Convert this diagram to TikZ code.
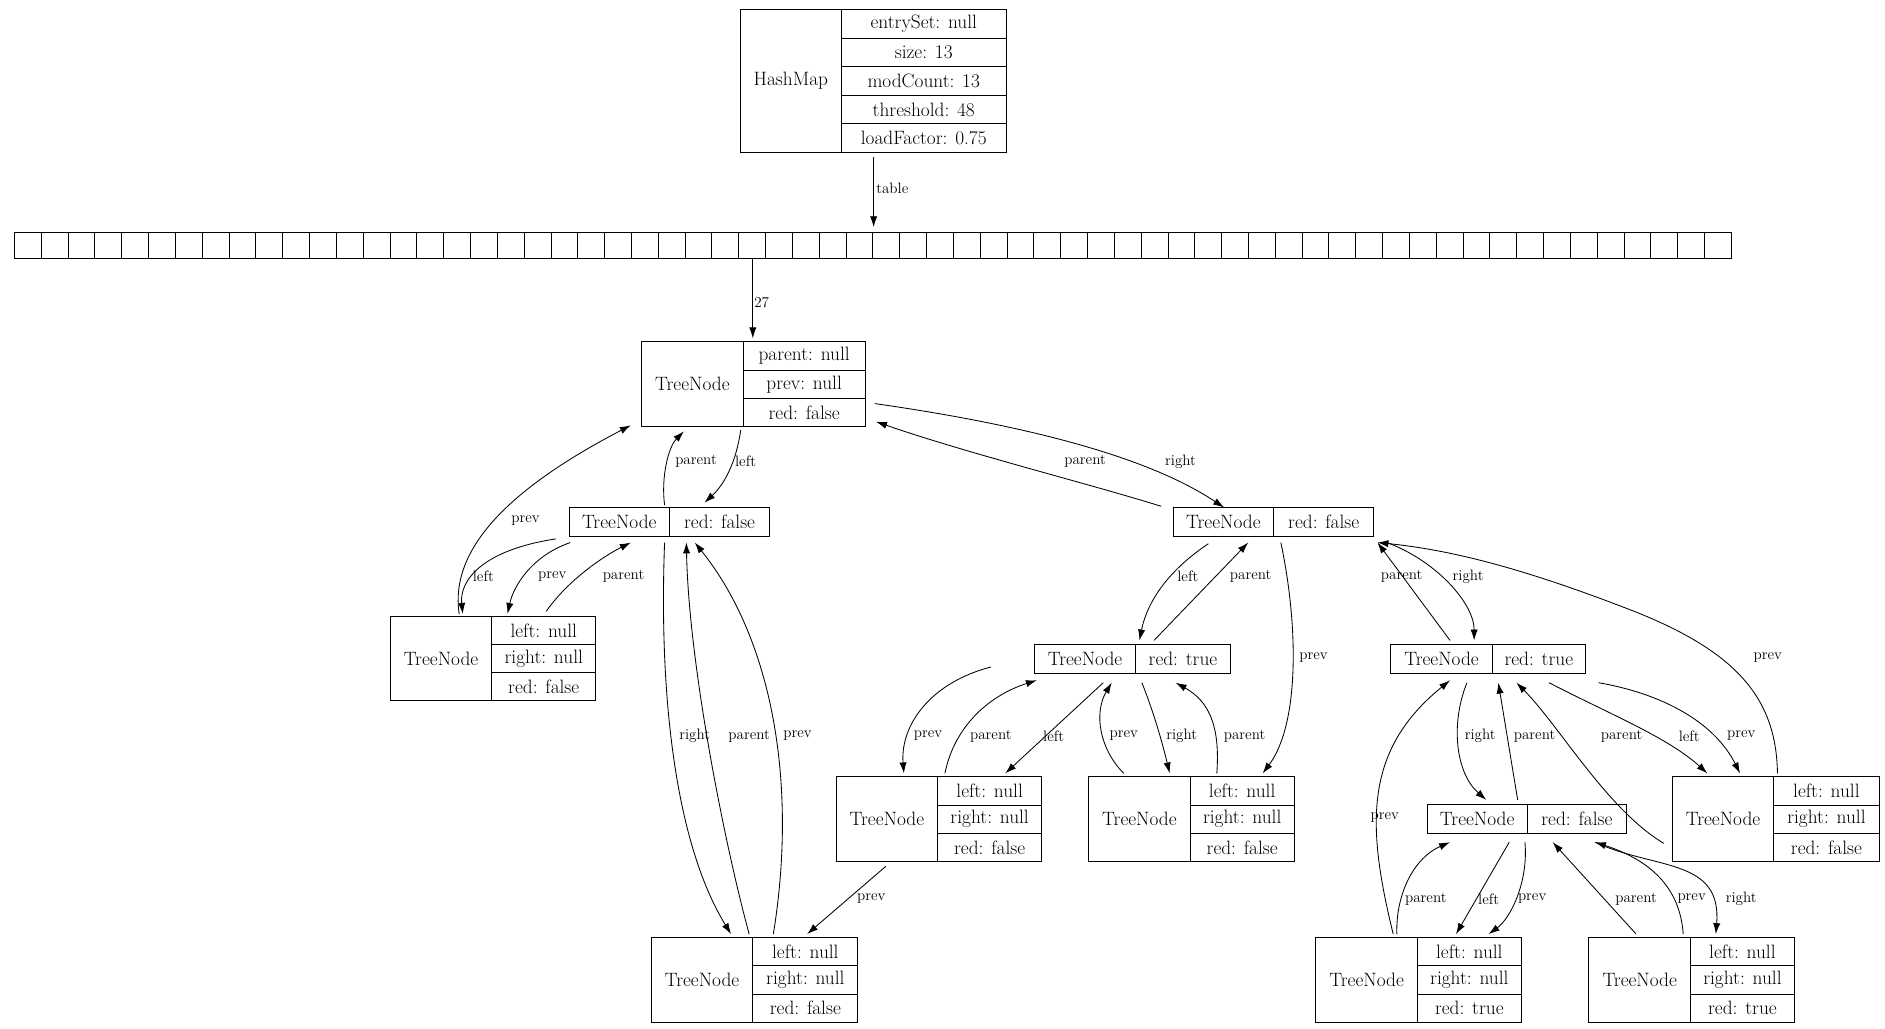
\documentclass[tikz,border=0pt]{standalone}
\usetikzlibrary{arrows.meta}
\tikzset{
  e/.style={draw,-{Latex[length=9pt,width=6pt]},line width=0.7pt},
  lab/.style={font=\fontsize{12.5}{14}\selectfont,inner sep=1pt},
  txt/.style={font=\fontsize{16}{19}\selectfont,inner sep=0pt},
  box/.style={draw,line width=0.8pt}
}
% records
\newcommand\recthree[9]{%
  \draw[box] (#2,#5) rectangle (#4,#5+70);
  \draw[box] (#3,#5) -- (#3,#5+70) (#3,#5+23.33) -- (#4,#5+23.33) (#3,#5+46.67) -- (#4,#5+46.67);
  \node[txt] (#1) at ({(#2+#3)/2},#5+35) {#6};
  \node[txt] (#1-r1) at ({(#3+#4)/2},#5+11.67) {#7};
  \node[txt] (#1-r2) at ({(#3+#4)/2},#5+35) {#8};
  \node[txt] (#1-r3) at ({(#3+#4)/2},#5+58.33) {#9};
}
\newcommand\recone[6]{%
  \draw[box] (#2,#5) rectangle (#4,#5+24);
  \draw[box] (#3,#5) -- (#3,#5+24);
  \node[txt] (#1) at ({(#2+#3)/2},#5+12) {TreeNode};
  \node[txt] (#1-r1) at ({(#3+#4)/2},#5+12) {#6};
}
\begin{document}
\begin{tikzpicture}[x=1pt,y=-1pt]
\useasboundingbox (0,0) rectangle (1560,851);
% HashMap
\draw[box] (613,8) rectangle (833,126);
\draw[box] (696,8) -- (696,126);
\foreach \k in {1,2,3,4}{\draw[box] (696,8+23.6*\k) -- (833,8+23.6*\k);}
\node[txt] (hm) at (654.5,67) {HashMap};
\node[txt] (hm1) at (764.5,19.8) {entrySet: null};
\node[txt] (hm2) at (764.5,43.4) {size: 13};
\node[txt] (hm3) at (764.5,67) {modCount: 13};
\node[txt] (hm4) at (764.5,90.6) {threshold: 48};
\node[txt] (hm5) at (764.5,114.2) {loadFactor: 0.75};
% array
\draw[box] (12,192) rectangle (1433,214);
\foreach \k in {1,...,63}{\draw[box] (12+22.2*\k,192) -- (12+22.2*\k,214);}
\coordinate (arrtop) at (723,188);
\coordinate (c27) at (623,214);
\draw[e] (723,130) -- (arrtop);
\node[lab,anchor=west] (ltable) at (724,156) {table};
\draw[e] (c27) -- (623,280);
\node[lab,anchor=west] (l27) at (623,250) {27};
% nodes
\recthree{root}{531}{615}{716}{283}{TreeNode}{parent: null}{prev: null}{red: false}
\recone{A}{471}{554}{637}{420}{red: false}
\recone{B}{971}{1054}{1137}{420}{red: false}
\recthree{L1}{323}{407}{493}{510}{TreeNode}{left: null}{right: null}{red: false}
\recthree{L2}{539}{623}{710}{776}{TreeNode}{left: null}{right: null}{red: false}
\recone{C}{856}{940}{1018}{533}{red: true}
\recone{D}{1151}{1235}{1312}{533}{red: true}
\recthree{C1}{692}{776}{862}{643}{TreeNode}{left: null}{right: null}{red: false}
\recthree{C2}{901}{985}{1071}{643}{TreeNode}{left: null}{right: null}{red: false}
\recthree{D1}{1384}{1468}{1555}{643}{TreeNode}{left: null}{right: null}{red: false}
\recone{E}{1181}{1264}{1346}{666}{red: false}
\recthree{E1}{1089}{1173}{1259}{776}{TreeNode}{left: null}{right: null}{red: true}
\recthree{E2}{1315}{1399}{1485}{776}{TreeNode}{left: null}{right: null}{red: true}
% edges
\draw[e] (613,356) .. controls (608,390) and (595,405) .. (583,416);
\node[lab] at (617,382) {left};
\draw[e] (550,418) .. controls (547,395) and (553,370) .. (566,357);
\node[lab] at (576,382) {parent};
\draw[e] (724,334) .. controls (850,352) and (950,378) .. (1013,420);
\node[lab] at (977,382) {right};
\draw[e] (961,419) .. controls (900,400) and (800,375) .. (725,349);
\node[lab] at (898,382) {parent};
\draw[e] (380,508) .. controls (372,455) and (420,405) .. (522,352);
\node[lab] at (435,431) {prev};
\draw[e] (460,446) .. controls (400,455) and (380,480) .. (383,508);
\node[lab] at (400,477) {left};
\draw[e] (472,449) .. controls (440,460) and (425,485) .. (420,508);
\node[lab] at (457,477) {prev};
\draw[e] (452,506) .. controls (470,480) and (500,460) .. (522,449);
\node[lab] at (516,477) {parent};
\draw[e] (550,449) .. controls (545,580) and (560,700) .. (605,773);
\node[lab] at (575,609) {right};
\draw[e] (620,773) .. controls (600,700) and (570,550) .. (568,449);
\node[lab] at (620,609) {parent};
\draw[e] (640,773) .. controls (660,650) and (640,530) .. (575,449);
\node[lab] at (660,609) {prev};
\draw[e] (733,717) -- (668,773);
\node[lab] at (721,744) {prev};
\draw[e] (1000,450) .. controls (970,470) and (950,495) .. (943,530);
\node[lab] at (983,477) {left};
\draw[e] (955,530) -- (1033,449);
\node[lab] at (1035,477) {parent};
\draw[e] (1060,449) .. controls (1075,520) and (1075,600) .. (1045,640);
\node[lab] at (1087,544) {prev};
\draw[e] (1200,530) -- (1140,449);
\node[lab] at (1160,477) {parent};
\draw[e] (1148,449) .. controls (1190,465) and (1220,500) .. (1220,530);
\node[lab] at (1215,477) {right};
\draw[e] (1471,640) .. controls (1470,580) and (1440,540) .. (1350,505) .. controls (1260,470) and (1200,455) .. (1140,449);
\node[lab] at (1463,544) {prev};
\draw[e] (820,552) .. controls (770,565) and (745,600) .. (748,640);
\node[lab] at (768,609) {prev};
\draw[e] (782,640) .. controls (790,600) and (820,575) .. (858,563);
\node[lab] at (820,609) {parent};
\draw[e] (913,565) -- (832,640);
\node[lab] at (872,609) {left};
\draw[e] (930,640) .. controls (910,620) and (905,590) .. (920,565);
\node[lab] at (930,609) {prev};
\draw[e] (945,565) .. controls (955,590) and (962,615) .. (968,640);
\node[lab] at (978,609) {right};
\draw[e] (1007,640) .. controls (1010,600) and (1000,580) .. (973,565);
\node[lab] at (1030,609) {parent};
\draw[e] (1214,565) .. controls (1200,600) and (1205,640) .. (1230,662);
\node[lab] at (1225,609) {right};
\draw[e] (1256,662) -- (1240,565);
\node[lab] at (1270,609) {parent};
\draw[e] (1377,698) .. controls (1330,670) and (1290,600) .. (1255,565);
\node[lab] at (1342,609) {parent};
\draw[e] (1282,565) .. controls (1330,590) and (1380,610) .. (1413,640);
\node[lab] at (1398,609) {left};
\draw[e] (1323,565) .. controls (1380,575) and (1420,600) .. (1440,640);
\node[lab] at (1441,609) {prev};
\draw[e] (1153,773) .. controls (1130,680) and (1130,620) .. (1200,563);
\node[lab] at (1146,677) {prev};
\draw[e] (1156,773) .. controls (1155,740) and (1170,710) .. (1200,697);
\node[lab] at (1180,744) {parent};
\draw[e] (1249,697) -- (1205,773);
\node[lab] at (1232,744) {left};
\draw[e] (1262,697) .. controls (1265,730) and (1250,760) .. (1232,773);
\node[lab] at (1268,744) {prev};
\draw[e] (1354,773) -- (1285,697);
\node[lab] at (1354,744) {parent};
\draw[e] (1393,773) .. controls (1390,730) and (1360,710) .. (1320,697);
\node[lab] at (1400,744) {prev};
\draw[e] (1320,697) .. controls (1370,720) and (1425,710) .. (1420,773);
\node[lab] at (1441,744) {right};
\end{tikzpicture}
\end{document}
